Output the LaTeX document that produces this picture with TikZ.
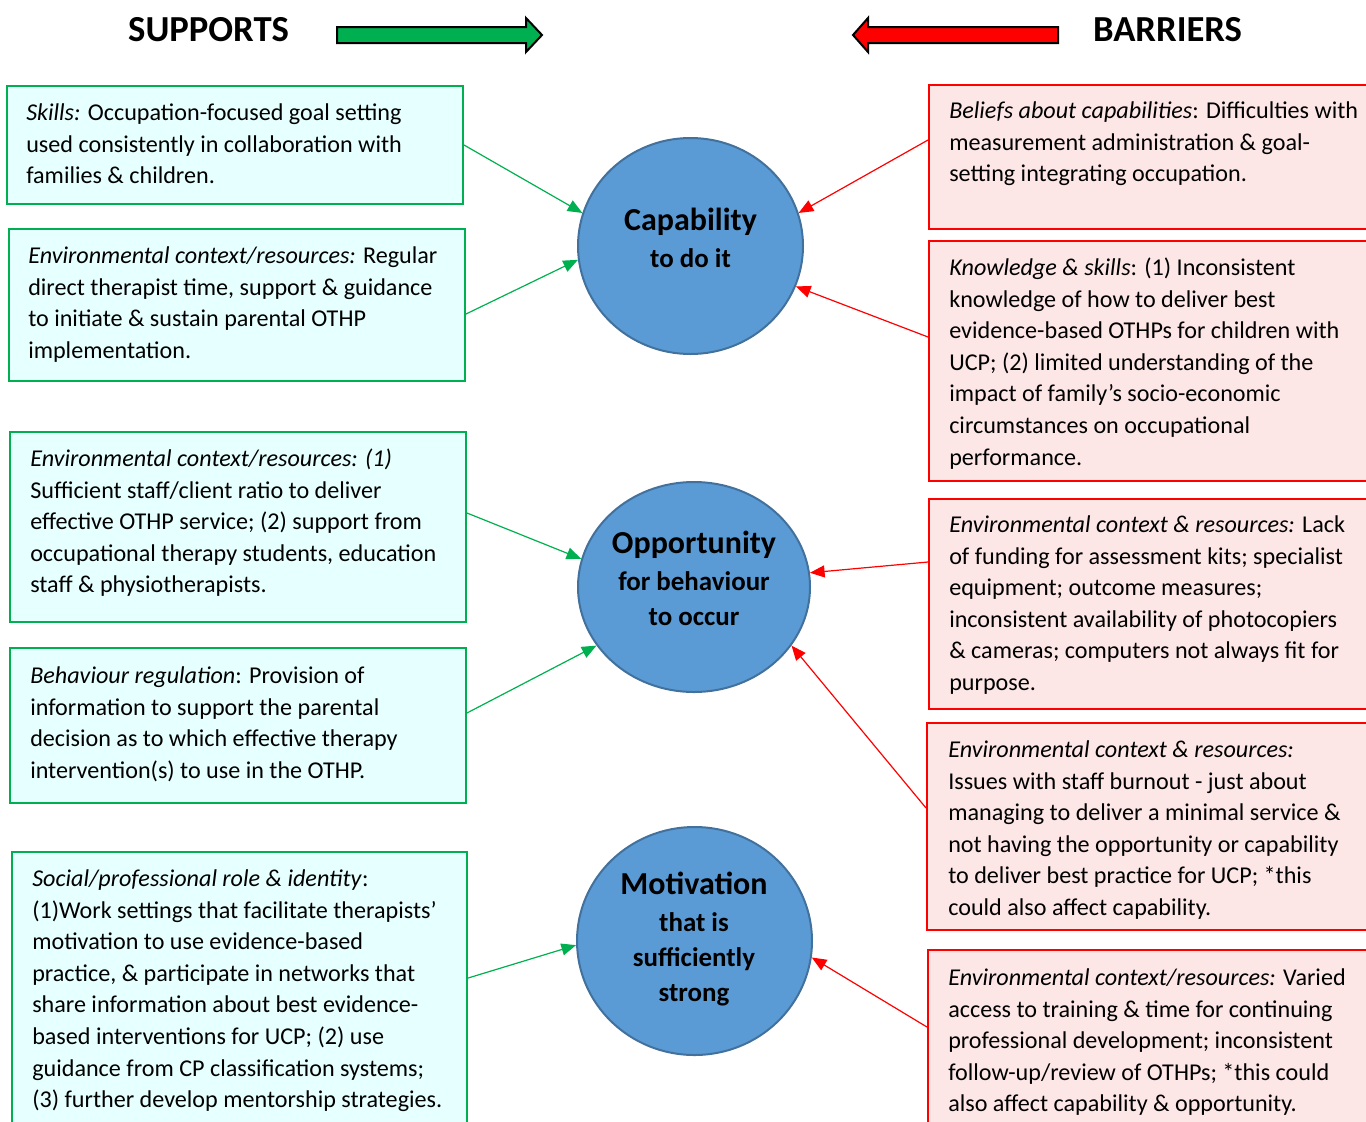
\documentclass[tikz,border=0pt]{standalone}
\usepackage{fontspec}
\setmainfont{Carlito}
\usetikzlibrary{shapes.geometric,arrows.meta}
\definecolor{sgreen}{HTML}{00B050}
\definecolor{sfill}{HTML}{E6FFFF}
\definecolor{bred}{HTML}{FF0000}
\definecolor{bfill}{HTML}{FDE6E6}
\definecolor{cfill}{HTML}{5B9BD5}
\definecolor{cdraw}{HTML}{41719C}
\newcommand{\boxtxt}[1]{\begin{minipage}[t]{350pt}\raggedright #1\end{minipage}}
\begin{document}
\begin{tikzpicture}[x=0.75pt,y=-0.75pt,
  supbox/.style={draw=sgreen, fill=sfill, line width=1.5pt, inner sep=0, rectangle},
  barbox/.style={draw=bred, fill=bfill, line width=1.5pt, inner sep=0, rectangle},
  txt/.style={anchor=base west, inner sep=0, font=\fontsize{18.1pt}{23.7pt}\selectfont},
  circ/.style={ellipse, draw=cdraw, fill=cfill, line width=1.5pt, inner sep=0},
  bigl/.style={anchor=base, inner sep=0, font=\bfseries\fontsize{24pt}{28pt}\selectfont},
  smalll/.style={anchor=base, inner sep=0, font=\bfseries\fontsize{20.2pt}{24pt}\selectfont},
  title/.style={anchor=base, inner sep=0, font=\bfseries\fontsize{27.5pt}{32pt}\selectfont},
  sarrow/.style={draw=sgreen, line width=0.9pt, -{Triangle[length=11pt,width=9pt]}},
  barrow/.style={draw=bred, line width=0.9pt, -{Triangle[length=11pt,width=9pt]}},
  bigarrow/.style={draw=black, line width=1.5pt, line join=miter}
]
\useasboundingbox (0,0) rectangle (1366,1121);
\clip (0,0) rectangle (1366,1121);

% titles
\node[title] (tsup) at (208.5,41) {SUPPORTS};
\node[title] (tbar) at (1167.5,41) {BARRIERS};
\draw[bigarrow, fill=sgreen] (337,27) -- (526,27) -- (526,18) -- (542,35) -- (526,52) -- (526,43) -- (337,43) -- cycle;
\draw[bigarrow, fill=bred] (1058,27) -- (868,27) -- (868,18) -- (853,35) -- (868,52) -- (868,43) -- (1058,43) -- cycle;

% circles
\node[circ, minimum width=168.75pt, minimum height=162pt] (C1) at (690.5,246) {};
\node[circ, minimum width=174pt, minimum height=157.5pt] (C2) at (694,587) {};
\node[circ, minimum width=176.25pt, minimum height=171pt] (C3) at (694.5,941) {};
\node[bigl] (c1a) at (690.5,230.5) {Capability};
\node[smalll] (c1b) at (690.5,267) {to do it};
\node[bigl] (c2a) at (694,553) {Opportunity};
\node[smalll] (c2b) at (694,590.5) {for behaviour};
\node[smalll] (c2c) at (694,625) {to occur};
\node[bigl] (c3a) at (694,894.5) {Motivation};
\node[smalll] (c3b) at (694,931) {that is};
\node[smalll] (c3c) at (694,966.5) {sufficiently};
\node[smalll] (c3d) at (694,1001.5) {strong};

% support boxes
\node[supbox, minimum width=342pt, minimum height=88.5pt] (L1) at (235,145) {};
\node[supbox, minimum width=342pt, minimum height=114pt] (L2) at (237,305) {};
\node[supbox, minimum width=342pt, minimum height=142.5pt] (L3) at (238,527) {};
\node[supbox, minimum width=342pt, minimum height=116.25pt] (L4) at (238,725.5) {};
\node[supbox, minimum width=341.25pt, minimum height=212.25pt] (L5) at (239.5,993.5) {};

\node[txt] (tL1) at (26,120.5) {\boxtxt{\textit{Skills:} Occupation-focused goal setting\\
used consistently in collaboration with\\
families \& children.}};
\node[txt] (tL2) at (28,263.5) {\boxtxt{\textit{Environmental context/resources:} Regular\\
direct therapist time, support \& guidance\\
to initiate \& sustain parental OTHP\\
implementation.}};
\node[txt] (tL3) at (30,466.5) {\boxtxt{\textit{Environmental context/resources: (1)}\\
Sufficient staff/client ratio to deliver\\
effective OTHP service; (2) support from\\
occupational therapy students, education\\
staff \& physiotherapists.}};
\node[txt] (tL4) at (30,683.5) {\boxtxt{\textit{Behaviour regulation}: Provision of\\
information to support the parental\\
decision as to which effective therapy\\
intervention(s) to use in the OTHP.}};
\node[txt] (tL5) at (32,886.5) {\boxtxt{\textit{Social/professional role \& identity}:\\
(1)Work settings that facilitate therapists’\\
motivation to use evidence-based\\
practice, \& participate in networks that\\
share information about best evidence-\\
based interventions for UCP; (2) use\\
guidance from CP classification systems;\\
(3) further develop mentorship strategies.}};

% barrier boxes
\node[barbox, minimum width=338.25pt, minimum height=108pt] (R1) at (1154.5,157) {};
\node[barbox, minimum width=338.25pt, minimum height=180pt] (R2) at (1154.5,361) {};
\node[barbox, minimum width=338.25pt, minimum height=157.5pt] (R3) at (1154.5,604) {};
\node[barbox, minimum width=339.75pt, minimum height=155.25pt] (R4) at (1153.5,826.5) {};
\node[barbox, minimum width=339pt, minimum height=138.75pt] (R5) at (1154,1042.5) {};

\node[txt] (tR1) at (949,118.5) {\boxtxt{\textit{Beliefs about capabilities}: Difficulties with\\
measurement administration \& goal-\\
setting integrating occupation.}};
\node[txt] (tR2) at (949,275.5) {\boxtxt{\textit{Knowledge \& skills}: (1) Inconsistent\\
knowledge of how to deliver best\\
evidence-based OTHPs for children with\\
UCP; (2) limited understanding of the\\
impact of family’s socio-economic\\
circumstances on occupational\\
performance.}};
\node[txt] (tR3) at (949,532.5) {\boxtxt{\textit{Environmental context \& resources:} Lack\\
of funding for assessment kits; specialist\\
equipment; outcome measures;\\
inconsistent availability of photocopiers\\
\& cameras; computers not always fit for\\
purpose.}};
\node[txt] (tR4) at (948,757.5) {\boxtxt{\textit{Environmental context \& resources:}\\
Issues with staff burnout - just about\\
managing to deliver a minimal service \&\\
not having the opportunity or capability\\
to deliver best practice for UCP; *this\\
could also affect capability.}};
\node[txt] (tR5) at (948,985.5) {\boxtxt{\textit{Environmental context/resources:} Varied\\
access to training \& time for continuing\\
professional development; inconsistent\\
follow-up/review of OTHPs; *this could\\
also affect capability \& opportunity.}};

% connectors
\draw[sarrow] (L1.east) -- (C1.163.4);
\draw[sarrow] ([yshift=-6.75pt]L2.east) -- (C1.187.5);
\draw[sarrow] ([yshift=10.5pt]L3.east) -- (C2.166.7);
\draw[sarrow] ([yshift=9.4pt]L4.east) -- (C2.211.7);
\draw[sarrow] ([yshift=11.6pt]L5.east) -- (C3.182.4);

\draw[barrow] ([yshift=12.75pt]R1.west) -- (C1.17.9);
\draw[barrow] ([yshift=18pt]R2.west) -- (C1.339.8);
\draw[barrow] ([yshift=31.5pt]R3.west) -- (C2.7.9);
\draw[barrow] ([yshift=13.9pt]R4.west) -- (C2.329.9);
\draw[barrow] ([yshift=11.6pt]R5.west) -- (C3.352.4);
\end{tikzpicture}
\end{document}
